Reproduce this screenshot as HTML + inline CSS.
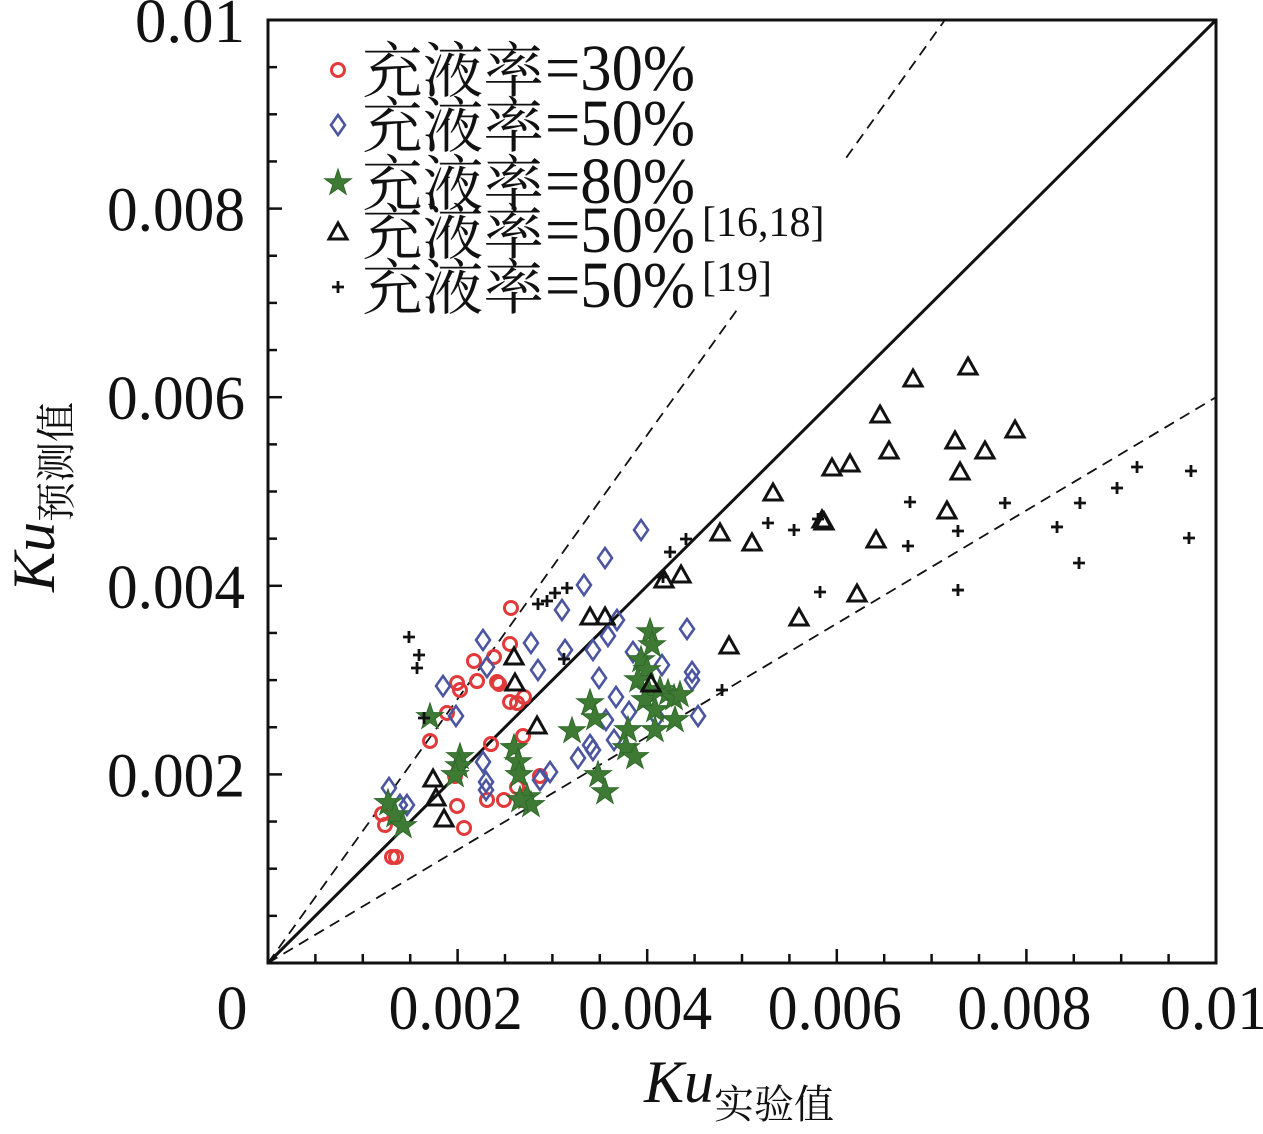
<!DOCTYPE html>
<html><head><meta charset="utf-8">
<style>html,body{margin:0;padding:0;background:#fff}svg{display:block}
text{font-family:"Liberation Serif","Noto Serif CJK SC",serif;fill:#111}
.lat{font-family:"Liberation Serif",serif}
.cjk{font-family:"Noto Serif CJK SC","Noto Sans CJK SC",serif}</style></head>
<body>
<svg id="chart" width="1263" height="1134" viewBox="0 0 1263 1134" xmlns="http://www.w3.org/2000/svg">
<g id="plot"></g>
</svg>
<script>
const xTicks=[0,0.002,0.004,0.006,0.008,0.01];
const xTickLabels=["0","0.002","0.004","0.006","0.008","0.01"];
const yTicks=[0.002,0.004,0.006,0.008,0.01];
const yTickLabels=["0.002","0.004","0.006","0.008","0.01"];
// values in units of 0.001
const s30x=[2.563,2.553,2.173,2.384,1.994,2.025,2.205,2.416,2.437,2.553,2.627,2.700,1.888,1.709,2.352,2.690,2.869,2.627,2.669,2.489,2.310,1.994,2.068,1.203,1.234,1.308,1.350,1.973];
const s30y=[3.765,3.383,3.203,3.245,2.969,2.895,2.990,2.980,2.959,2.768,2.757,2.821,2.651,2.354,2.322,2.407,1.983,1.866,1.729,1.729,1.729,1.665,1.432,1.580,1.463,1.124,1.124,1.983];
const s50x=[3.935,3.555,3.333,3.101,3.586,3.681,2.774,2.268,2.310,2.848,3.133,3.428,1.846,1.983,3.850,3.492,4.156,4.420,4.473,4.473,4.536,3.671,3.565,3.808,4.103,3.650,3.397,3.428,3.270,2.975,2.869,2.300,2.300,1.276,1.392,1.466,2.268];
const s50y=[4.592,4.295,4.008,3.743,3.468,3.637,3.393,3.425,3.139,3.107,3.319,3.319,2.937,2.619,3.298,3.022,3.160,3.542,3.086,3.001,2.619,2.821,2.577,2.662,2.609,2.365,2.312,2.259,2.174,2.025,1.941,1.919,1.835,1.856,1.676,1.676,2.131];
const s80x=[1.709,2.025,2.015,1.973,2.595,2.637,2.648,2.732,2.774,2.658,3.207,3.397,3.449,3.481,3.555,3.797,3.776,3.871,3.935,3.998,4.030,4.051,4.008,3.977,4.082,4.135,4.219,4.283,4.346,4.293,3.903,4.082,1.266,1.340,1.424];
const s80y=[2.609,2.185,2.089,1.994,2.280,2.131,1.994,1.760,1.676,1.729,2.460,2.757,2.598,1.994,1.813,2.471,2.280,2.185,3.213,3.107,3.510,3.372,2.895,2.789,2.683,2.895,2.863,2.810,2.842,2.577,3.001,2.471,1.697,1.569,1.453];
const triX=[7.384,6.804,6.456,7.247,7.563,7.880,7.300,6.551,6.139,5.949,5.865,5.327,5.105,4.768,7.162,6.414,6.213,5.601,4.863,4.357,4.177,4.040,3.555,3.397,2.595,2.605,2.838,1.741,1.772,1.857,5.844];
const triY=[6.320,6.193,5.811,5.536,5.429,5.652,5.207,5.429,5.292,5.249,4.677,4.984,4.454,4.560,4.793,4.486,3.913,3.659,3.362,4.115,4.062,2.959,3.669,3.669,3.245,2.969,2.513,1.951,1.750,1.527,4.698];
const plusX=[9.736,9.715,9.167,8.956,8.565,8.323,8.555,7.774,7.278,7.278,6.772,6.751,5.802,5.549,5.274,5.823,4.789,4.409,4.241,4.167,3.154,3.027,2.943,2.848,3.122,1.487,1.593,1.572,1.646];
const plusY=[5.217,4.507,5.260,5.037,4.878,4.624,4.242,4.878,3.955,4.581,4.889,4.422,4.708,4.592,4.666,3.934,2.895,4.496,4.358,4.093,3.977,3.924,3.839,3.807,3.224,3.457,3.266,3.128,2.598];

const X0=268,X1=1216,Y0=963,Y1=20;
const sx=v=>X0+(v/0.01)*(X1-X0);
const sy=v=>Y0-(v/0.01)*(Y0-Y1);
const sxk=v=>sx(v*0.001), syk=v=>sy(v*0.001);
const NS="http://www.w3.org/2000/svg";
const g=document.getElementById('plot');
function mk(tag,attrs,parent){const e=document.createElementNS(NS,tag);for(const k in attrs)e.setAttribute(k,attrs[k]);(parent||g).appendChild(e);return e;}

let l=mk('line',{x1:sx(0),y1:sy(0),x2:sx(0.01),y2:sy(0.01),stroke:'#111','stroke-width':3});


l=mk('line',{x1:sx(0),y1:sy(0),x2:sx(0.00495),y2:sy(0.00693),stroke:'#111','stroke-width':1.8,'stroke-dasharray':'11,7'});


l=mk('line',{x1:sx(0.0061),y1:sy(0.00854),x2:sx(0.00714),y2:sy(0.01),stroke:'#111','stroke-width':1.8,'stroke-dasharray':'11,7'});


l=mk('line',{x1:sx(0),y1:sy(0),x2:sx(0.01),y2:sy(0.006),stroke:'#111','stroke-width':1.8,'stroke-dasharray':'11,7'});



function circle(cx,cy,p){return mk('circle',{cx,cy,r:6.5,fill:'none',stroke:'#e23a3a','stroke-width':3},p);}
function diamond(cx,cy,p){return mk('path',{d:`M${cx},${cy-10}L${cx+7},${cy}L${cx},${cy+10}L${cx-7},${cy}Z`,fill:'none',stroke:'#4b55a0','stroke-width':2.6},p);}
function star(cx,cy,p){let d='';for(let i=0;i<10;i++){const r=i%2?5.5:14;const a=-Math.PI/2+i*Math.PI/5;d+=(i?'L':'M')+(cx+r*Math.cos(a)).toFixed(1)+','+(cy+r*Math.sin(a)).toFixed(1);}return mk('path',{d:d+'Z',fill:'#3f7a35',stroke:'#2f6a2a','stroke-width':1},p);}
function tri(cx,cy,p){return mk('path',{d:`M${cx},${cy-9}L${cx+9},${cy+7}L${cx-9},${cy+7}Z`,fill:'none',stroke:'#111','stroke-width':3},p);}
function plus(cx,cy,p){return mk('path',{d:`M${cx-6},${cy}H${cx+6}M${cx},${cy-6}V${cy+6}`,fill:'none',stroke:'#111','stroke-width':2.8},p);}

const series=[[s30x,s30y,circle,'point-30pct'],[s50x,s50y,diamond,'point-50pct'],[s80x,s80y,star,'point-80pct'],[triX,triY,tri,'point-50pct-ref16-18'],[plusX,plusY,plus,'point-50pct-ref19']];
series.forEach(([xs,ys,fn,name])=>{xs.forEach((v,i)=>{const e=fn(sxk(v),syk(ys[i]));

});});

const fr=mk('rect',{x:X0,y:Y1,width:X1-X0,height:Y0-Y1,fill:'none',stroke:'#111','stroke-width':3});


for(let i=1;i<20;i++){const v=i*0.0005;const major=i%4==0;const len=major?14:9;
 const t=mk('line',{x1:sx(v),y1:Y0,x2:sx(v),y2:Y0-len,stroke:'#111','stroke-width':2.5});
 
 
 const u=mk('line',{x1:X0,y1:sy(v),x2:X0+len,y2:sy(v),stroke:'#111','stroke-width':2.5});
 
 }
xTicks.forEach((v,i)=>{const t=mk('text',{class:'lat',x:i==0?232:sx(v)-2,y:1029,'font-size':62,'text-anchor':'middle',transform:''});t.textContent=xTickLabels[i];
 
 
 if(i>0){t.setAttribute('textLength',xTickLabels[i].length>4?134:108);t.setAttribute('lengthAdjust','spacingAndGlyphs');}});
yTicks.forEach((v,i)=>{const t=mk('text',{class:'lat',x:245,y:sy(v)+22,'font-size':62,'text-anchor':'end'});t.textContent=yTickLabels[i];
 
 
 t.setAttribute('textLength',yTickLabels[i].length>4?138:110);t.setAttribute('lengthAdjust','spacingAndGlyphs');});

let xt=mk('text',{x:644,y:1102,'font-size':60});


xt.innerHTML='<tspan class="lat" font-style="italic">Ku</tspan><tspan class="cjk" font-size="40" dy="16">实验值</tspan>';
let yt=mk('text',{x:0,y:0,'font-size':60,transform:'translate(54,592) rotate(-90)'});


yt.innerHTML='<tspan class="lat" font-style="italic">Ku</tspan><tspan class="cjk" font-size="40" dy="16">预测值</tspan>';

const legLabels=['=30%','=50%','=80%','=50%','=50%'];
const legSup=['','','','[16,18]','[19]'];
const legY=[70,125,183,232,287];
const legFns=[circle,diamond,star,tri,plus];
const lg=mk('g',{});


legLabels.forEach((s,i)=>{const m=legFns[i](338,legY[i],lg);
 
 
 const c=mk('text',{class:'cjk',x:362,y:legY[i]+22,'font-size':60,textLength:182,lengthAdjust:'spacingAndGlyphs'},lg);c.textContent='充液率';
 
 
 const t=mk('text',{class:'lat',x:545,y:legY[i]+20,'font-size':66,textLength:150,lengthAdjust:'spacingAndGlyphs'},lg);t.textContent=s;
 
 
 if(legSup[i]){const su=mk('text',{class:'lat',x:702,y:legY[i]+4,'font-size':42},lg);su.textContent=legSup[i];
 
 }});
</script>
</body></html>
